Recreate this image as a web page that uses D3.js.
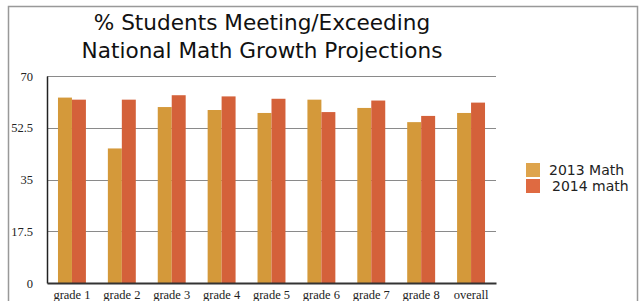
<!DOCTYPE html>
<html>
<head>
<meta charset="utf-8">
<script src="https://cdn.jsdelivr.net/npm/d3@7"></script>
<style>
  body { margin: 0; background: #fff; }
  svg { display: block; }
</style>
</head>
<body>
<div id="chart"></div>
<script>
const categories = ["grade 1", "grade 2", "grade 3", "grade 4", "grade 5", "grade 6", "grade 7", "grade 8", "overall"];
const seriesNames = ["2013 Math", "2014 math"];
const math2013 = [62.7, 45.5, 59.5, 58.5, 57.5, 62.0, 59.2, 54.4, 57.5];
const math2014 = [62.0, 62.0, 63.5, 63.1, 62.3, 57.8, 61.7, 56.5, 61.0];
const yTicks = [0, 17.5, 35, 52.5, 70];

const width = 640, height = 301;
const margin = { top: 76, left: 47, right: 144, bottom: 18 };
const colors = ["#d4993a", "#d4613a"];
const swatchColors = ["#dea44c", "#df6a41"];

const svg = d3.select("#chart").append("svg")
  .attr("width", width)
  .attr("height", height);

// outer frame
svg.append("rect")
  .attr("x", 8.5).attr("y", 6.5)
  .attr("width", 629).attr("height", 310)
  .attr("fill", "none")
  .attr("stroke", "#999")
  .attr("stroke-width", 1.5);

// title
const title = svg.append("text")
  .attr("text-anchor", "middle")
  .attr("font-family", "DejaVu Sans, Verdana, sans-serif")
  .attr("font-size", 21.6)
  .attr("fill", "#111");
title.append("tspan").attr("x", 262).attr("y", 30).text("% Students Meeting/Exceeding");
title.append("tspan").attr("x", 262).attr("y", 58).text("National Math Growth Projections");

const x = d3.scaleBand()
  .domain(categories)
  .range([margin.left, width - margin.right])
  .paddingInner(0.44)
  .paddingOuter(0.22);

const xs = d3.scaleBand()
  .domain(seriesNames)
  .range([0, x.bandwidth()]);

const y = d3.scaleLinear()
  .domain([0, 70])
  .range([height - margin.bottom, margin.top]);

// gridlines
svg.append("g")
  .selectAll("line")
  .data(yTicks.filter(d => d > 0))
  .join("line")
  .attr("x1", margin.left)
  .attr("x2", width - margin.right)
  .attr("y1", d => Math.round(y(d)) + 0.5)
  .attr("y2", d => Math.round(y(d)) + 0.5)
  .attr("stroke", "#8a8a8a")
  .attr("stroke-width", 1);

// bars
const groups = svg.append("g")
  .selectAll("g")
  .data(categories)
  .join("g")
  .attr("transform", d => `translate(${x(d)},0)`);

groups.selectAll("rect")
  .data((d, i) => [
    { key: seriesNames[0], value: math2013[i], c: 0 },
    { key: seriesNames[1], value: math2014[i], c: 1 }
  ])
  .join("rect")
  .attr("x", d => xs(d.key))
  .attr("width", xs.bandwidth())
  .attr("y", d => y(d.value))
  .attr("height", d => y(0) - y(d.value))
  .attr("fill", d => colors[d.c]);

// y axis
const yAxis = svg.append("g")
  .attr("transform", `translate(${margin.left},0)`)
  .call(d3.axisLeft(y).tickValues(yTicks).tickSize(0).tickPadding(14)
    .tickFormat(d => d));
yAxis.select(".domain").attr("stroke", "#222").attr("stroke-width", 1.5);
yAxis.selectAll("text")
  .attr("font-family", "Liberation Serif, Times New Roman, serif")
  .attr("font-size", 12.5)
  .attr("fill", "#222");

// x axis
const xAxis = svg.append("g")
  .attr("transform", `translate(0,${y(0)})`)
  .call(d3.axisBottom(x).tickSize(0).tickPadding(7));
xAxis.select(".domain").attr("stroke", "#333").attr("stroke-width", 2);
xAxis.selectAll("text")
  .attr("font-family", "Liberation Serif, Times New Roman, serif")
  .attr("font-size", 12.5)
  .attr("fill", "#222");

// legend
const legend = svg.append("g")
  .selectAll("g")
  .data(seriesNames)
  .join("g")
  .attr("transform", (d, i) => `translate(526,${163 + i * 16})`);
legend.append("rect")
  .attr("width", 14).attr("height", 14)
  .attr("fill", (d, i) => swatchColors[i]);
legend.append("text")
  .attr("x", (d, i) => i === 0 ? 23 : 26)
  .attr("y", 12)
  .attr("font-family", "DejaVu Sans, Verdana, sans-serif")
  .attr("font-size", 14)
  .attr("fill", "#222")
  .text(d => d);
</script>
</body>
</html>
